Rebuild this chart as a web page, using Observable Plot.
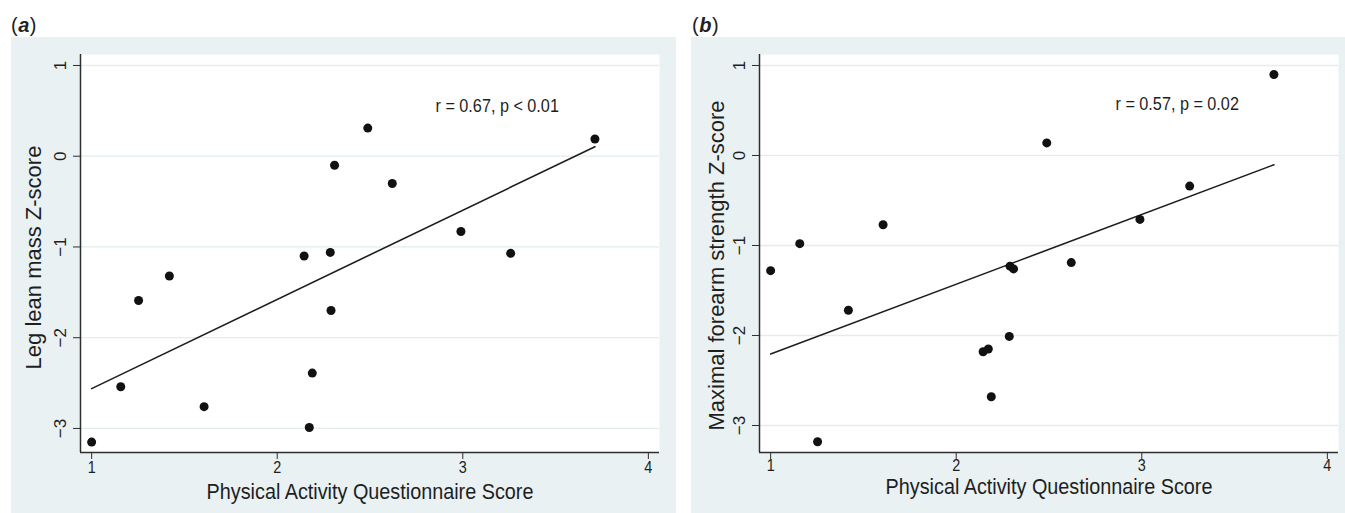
<!DOCTYPE html>
<html>
<head>
<meta charset="utf-8">
<script src="https://cdn.jsdelivr.net/npm/d3@7"></script>
<script src="https://cdn.jsdelivr.net/npm/@observablehq/plot@0.6"></script>
<style>
  html, body { margin: 0; padding: 0; background: #ffffff; }
  body { width: 1345px; height: 513px; position: relative; overflow: hidden;
         font-family: "Liberation Sans", Arial, Helvetica, sans-serif; color: #222; }
  .tag { position: absolute; top: 14px; font-size: 20px; line-height: 22px; letter-spacing: 0.5px; }
  .panel { position: absolute; top: 37px; }
</style>
</head>
<body>
<div class="tag" style="left:11px">(<b><i>a</i></b>)</div>
<div class="tag" style="left:692px">(<b><i>b</i></b>)</div>
<div id="pa" class="panel" style="left:11px"></div>
<div id="pb" class="panel" style="left:691px"></div>
<script>
// ---- data ----
const paqScore   = [1.00, 1.157, 1.253, 1.419, 1.606, 2.145, 2.173, 2.189, 2.286, 2.29, 2.309, 2.488, 2.62, 2.99, 3.258, 3.712];
const legLeanZ   = [-3.15, -2.54, -1.59, -1.32, -2.76, -1.10, -2.99, -2.39, -1.06, -1.70, -0.10, 0.31, -0.30, -0.83, -1.07, 0.19];
const forearmZ   = [-1.28, -0.98, -3.18, -1.72, -0.77, -2.18, -2.15, -2.68, -2.01, -1.23, -1.26, 0.14, -1.19, -0.71, -0.34, 0.90];
const xTicks     = [1, 2, 3, 4];
const yTicks     = [-3, -2, -1, 0, 1];
const xTitle     = "Physical Activity Questionnaire Score";
const yTitleA    = "Leg lean mass Z-score";
const yTitleB    = "Maximal forearm strength Z-score";
const statA      = "r = 0.67, p < 0.01";
const statB      = "r = 0.57, p = 0.02";

const BG = "#e9f1f3";
const INK = "#1e1e1e";
const FONT = "'Liberation Sans', Arial, Helvetica, sans-serif";
const fmt = d => d < 0 ? "\u2212" + Math.abs(d) : String(d);

function panel({ys, yTitle, stat, width, marginLeft, marginRight, yDomain, xTickDy, xTitleDy, yTitleDx, yTitleDy, statDx, statDy}) {
  const data = paqScore.map((x, i) => ({x, y: ys[i]}));
  const xDomain = [0.94, 4.06];
  return Plot.plot({
    width, height: 476,
    marginLeft, marginRight, marginTop: 17, marginBottom: 61,
    style: {background: BG, fontFamily: FONT, color: INK, overflow: "visible"},
    x: {domain: xDomain},
    y: {domain: yDomain},
    marks: [
      Plot.frame({fill: "white", stroke: null}),
      Plot.gridY(yTicks, {stroke: "#e3ecef", strokeOpacity: 1, strokeWidth: 1.3}),
      Plot.ruleX([xDomain[0]], {stroke: "#2e2e2e", strokeWidth: 1.5}),
      Plot.ruleY([yDomain[0]], {stroke: "#2e2e2e", strokeWidth: 1.5}),
      Plot.axisY(yTicks, {tickSize: 7, tickFormat: () => "", stroke: "#2e2e2e", label: null}),
      Plot.axisX(xTicks, {tickSize: 7, tickFormat: () => "", stroke: "#2e2e2e", label: null}),
      Plot.text(yTicks, {y: d => d, text: fmt, frameAnchor: "left", dx: -20, rotate: -90, textAnchor: "middle", fontSize: 17, fill: INK}),
      Plot.text(xTicks, {x: d => d, text: fmt, frameAnchor: "bottom", dy: xTickDy, lineAnchor: "middle", fontSize: 16, fill: INK}),
      Plot.text([xTitle], {frameAnchor: "bottom", dy: xTitleDy, fontSize: 22, fill: INK}),
      Plot.text([yTitle], {frameAnchor: "left", dx: yTitleDx, dy: yTitleDy, rotate: -90, textAnchor: "middle", fontSize: 22, fill: INK}),
      Plot.text([stat], {frameAnchor: "top-left", dx: statDx, dy: statDy, textAnchor: "start", fontSize: 18, fill: INK}),
      Plot.linearRegressionY(data, {x: "x", y: "y", ci: 0, stroke: INK, strokeWidth: 1.6}),
      Plot.dot(data, {x: "x", y: "y", r: 4.5, fill: "#111", stroke: null})
    ]
  });
}

// horizontally condense the upright texts, as in the reference
function squeeze(svg, k) {
  svg.querySelectorAll("text").forEach(t => {
    const tr = (t.getAttribute("transform") || "") + (t.parentNode.getAttribute("transform") || "");
    if (tr.includes("rotate")) return;
    const L = t.getComputedTextLength();
    if (L > 0) {
      t.setAttribute("textLength", (L * k).toFixed(2));
      t.setAttribute("lengthAdjust", "spacingAndGlyphs");
    }
  });
}

const svgA = panel({
  ys: legLeanZ, yTitle: yTitleA, stat: statA, width: 665,
  marginLeft: 69, marginRight: 17, yDomain: [-3.265, 1.121],
  xTickDy: 15, xTitleDy: 46, yTitleDx: -47, yTitleDy: 4, statDx: 355, statDy: 45
});
document.getElementById("pa").append(svgA);
squeeze(svgA, 0.9);

const svgB = panel({
  ys: forearmZ, yTitle: yTitleB, stat: statB, width: 654,
  marginLeft: 68, marginRight: 7, yDomain: [-3.3, 1.122],
  xTickDy: 13, xTitleDy: 41, yTitleDx: -43, yTitleDy: 12, statDx: 356, statDy: 43
});
document.getElementById("pb").append(svgB);
squeeze(svgB, 0.9);
</script>
</body>
</html>
